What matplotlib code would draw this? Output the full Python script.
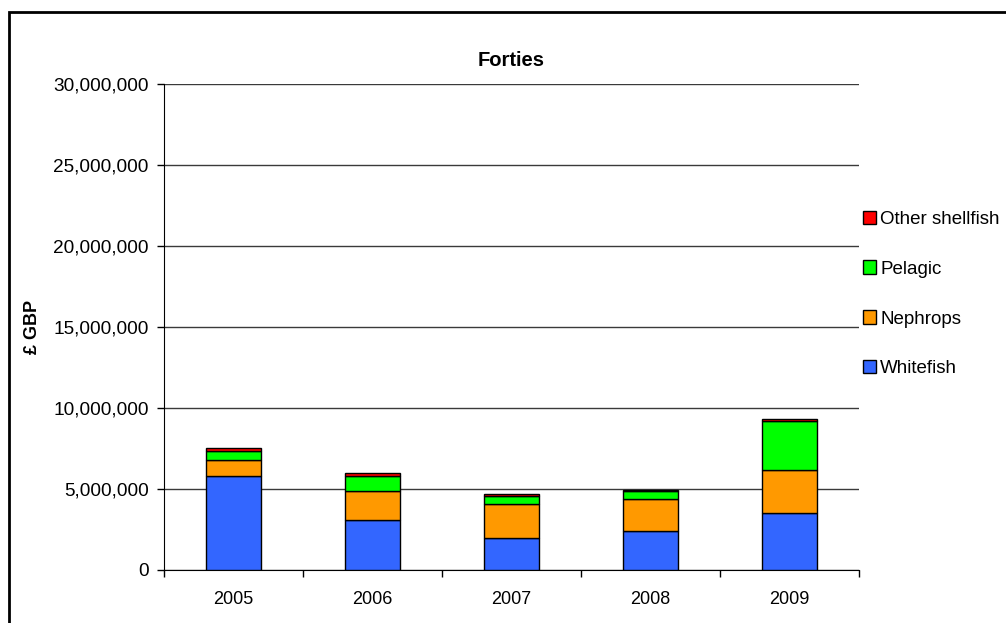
import matplotlib
matplotlib.use("Agg")
import matplotlib.pyplot as plt
import matplotlib.ticker as mticker
from matplotlib.patches import Rectangle
import numpy as np

plt.rcParams['font.family'] = ['Liberation Sans', 'DejaVu Sans']

years = ["2005", "2006", "2007", "2008", "2009"]
whitefish = [5780000, 3110000, 2000000, 2390000, 3520000]
nephrops = [1000000, 1790000, 2050000, 2010000, 2630000]
pelagic = [580000, 900000, 540000, 450000, 3060000]
other_shellfish = [200000, 160000, 100000, 90000, 140000]

series = [("Whitefish", whitefish, "#3366FF"),
          ("Nephrops", nephrops, "#FF9900"),
          ("Pelagic", pelagic, "#00FF00"),
          ("Other shellfish", other_shellfish, "#FF0000")]

fig = plt.figure(figsize=(10.06, 6.23), dpi=100)
ax = fig.add_axes([164/1006, 1-570/623, (859-164)/1006, (570-84)/623])

x = np.arange(len(years))
bottom = np.zeros(len(years))
handles = []
for name, vals, col in series:
    b = ax.bar(x, vals, width=0.4, bottom=bottom, color=col, edgecolor="black",
               linewidth=1, label=name, zorder=3)
    handles.append(b)
    bottom += np.array(vals)

ax.set_xlim(-0.5, len(years)-0.5)
ax.set_ylim(0, 30000000)
ax.set_yticks(np.arange(0, 30000001, 5000000))
ax.yaxis.set_major_formatter(mticker.FuncFormatter(lambda v, p: f"{int(v):,}"))
ax.grid(axis="y", color="#3a3a3a", linewidth=1, zorder=0)
ax.set_xticks(x)
ax.set_xticklabels(years)
ax.set_xticks(np.arange(-0.5, len(years), 1), minor=True)
ax.tick_params(axis="x", which="major", length=0, pad=15, labelsize=13)
ax.tick_params(axis="x", which="minor", length=5, width=1, direction="out", color="black")
ax.tick_params(axis="y", length=5, width=1, direction="out", labelsize=13.7, pad=6)
for s in ["top", "right"]:
    ax.spines[s].set_visible(False)
ax.spines["left"].set_color("black")
ax.spines["bottom"].set_color("black")

ax.set_title("Forties", fontsize=14.5, fontweight="bold", pad=13)
ax.set_ylabel("£ GBP", fontsize=13, fontweight="bold", labelpad=9)

leg = fig.legend(handles[::-1], [s[0] for s in series][::-1],
                 loc="upper left", bbox_to_anchor=(855/1006, 1-203/623),
                 frameon=False, fontsize=13.5, handlelength=0.7, handleheight=0.7,
                 handletextpad=0.25, labelspacing=1.75, borderaxespad=0)

fig.patches.append(Rectangle((9/1006, -0.1), 1.1, 1.1 - 12/623 + 0.0,
                             transform=fig.transFigure, fill=False,
                             edgecolor="black", linewidth=2))

fig.savefig("out.png", dpi=100)
